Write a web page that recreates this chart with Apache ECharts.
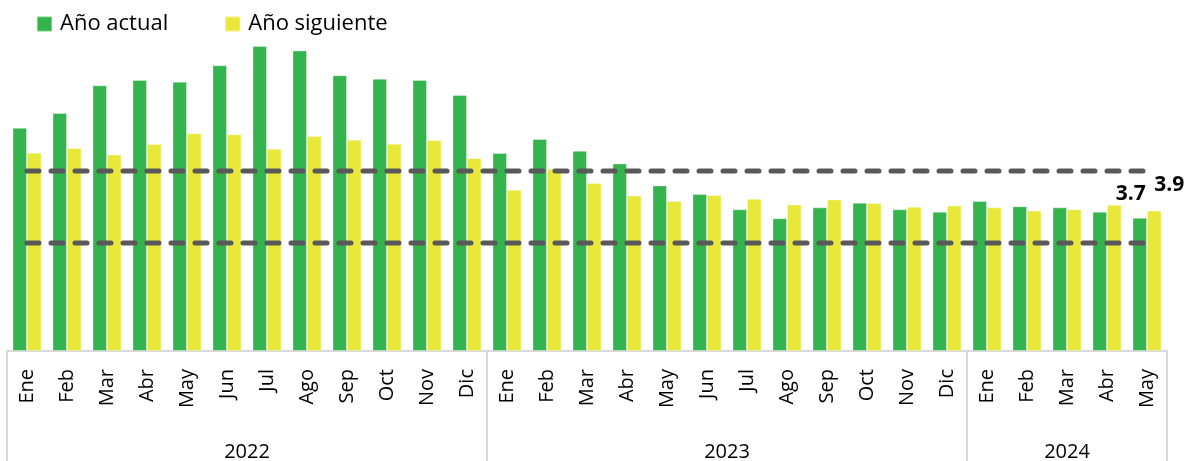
<!DOCTYPE html>
<html lang="es">
<head>
<meta charset="UTF-8">
<title>Expectativas de inflación</title>
<style>
  html, body { margin: 0; padding: 0; background: #fff; }
  #chart { width: 1185px; height: 461px; }
</style>
</head>
<body>
<div id="chart"></div>
<script src="https://cdn.jsdelivr.net/npm/echarts@6/dist/echarts.min.js"></script>
<script>
// meses (29), con año para que cada categoría sea única
var months = ['Ene','Feb','Mar','Abr','May','Jun','Jul','Ago','Sep','Oct','Nov','Dic',
              'Ene','Feb','Mar','Abr','May','Jun','Jul','Ago','Sep','Oct','Nov','Dic',
              'Ene','Feb','Mar','Abr','May'];
var years = ['2022', '2023', '2024'];
var yearLabelPos = [6, 18, 26.5];   // centro de cada bloque de año, en unidades de categoría
var yearStarts = [0, 12, 24];

var anioActual = [6.20, 6.61, 7.38, 7.53, 7.48, 7.94, 8.47, 8.35, 7.66, 7.56, 7.53, 7.11,
                  5.50, 5.89, 5.56, 5.21, 4.60, 4.36, 3.94, 3.69, 3.99, 4.12, 3.94, 3.87,
                  4.17, 4.02, 3.99, 3.87, 3.70];
var anioSiguiente = [5.51, 5.64, 5.46, 5.75, 6.05, 6.02, 5.62, 5.97, 5.87, 5.76, 5.86, 5.36,
                     4.48, 5.06, 4.67, 4.32, 4.17, 4.33, 4.23, 4.07, 4.21, 4.11, 4.01, 4.04,
                     3.99, 3.90, 3.94, 4.06, 3.90];
// rango meta
var metaSuperior = 5;
var metaInferior = 3;

var cats = months.map(function (m, i) { return m + '|' + i; });

function withLastLabel(values, offset) {
  return values.map(function (v, i) {
    if (i !== values.length - 1) return v;
    return {
      value: v,
      label: {
        show: true, position: 'top', offset: offset,
        formatter: function (p) { return p.value.toFixed(1); },
        color: '#000', fontSize: 21, fontWeight: 'bold', fontFamily: 'Open Sans'
      }
    };
  });
}

var chart = echarts.init(document.getElementById('chart'));

var option = {
  animation: false,
  textStyle: { fontFamily: 'Open Sans' },
  legend: {
    left: 31, top: 8,
    itemWidth: 15, itemHeight: 15, itemGap: 56,
    icon: 'rect',
    textStyle: { fontSize: 22, color: '#000', padding: [0, 0, 0, 3] },
    data: ['Año actual', 'Año siguiente']
  },
  grid: { left: 7, right: 18, top: 27, bottom: 110, containLabel: false, outerBoundsMode: 'none' },
  xAxis: [{
    type: 'category',
    data: cats,
    position: 'bottom',
    axisLine: { show: true, lineStyle: { color: '#d9d9d9', width: 2 } },
    axisTick: {
      show: true, length: 112,
      interval: function (idx) { return yearStarts.indexOf(idx) >= 0; },
      lineStyle: { color: '#d9d9d9', width: 2 }
    },
    axisLabel: {
      interval: 0, rotate: 90, margin: 18,
      fontSize: 20, color: '#000',
      formatter: function (v) { return v.split('|')[0]; }
    },
    splitLine: { show: false }
  }, {
    type: 'value',
    min: 0, max: months.length, interval: 0.5,
    position: 'bottom',
    offset: 83,
    axisLine: { show: false },
    axisTick: { show: false },
    splitLine: { show: false },
    axisLabel: {
      fontSize: 20, color: '#000', showMinLabel: true, showMaxLabel: true,
      formatter: function (v) {
        var k = yearLabelPos.indexOf(v);
        return k >= 0 ? years[k] : '';
      }
    }
  }],
  yAxis: {
    type: 'value', min: 0, max: 9, show: false,
    splitLine: { show: false }
  },
  series: [{
    name: 'Año actual',
    type: 'bar',
    barWidth: 14.5,
    barGap: '0%',
    itemStyle: { color: '#34b44c', borderColor: 'rgba(255,255,255,0.35)', borderWidth: 1 },
    data: withLastLabel(anioActual, [-9, -8])
  }, {
    name: 'Año siguiente',
    type: 'bar',
    barWidth: 14.5,
    barGap: '0%',
    itemStyle: { color: '#e8e83a', borderColor: 'rgba(255,255,255,0.35)', borderWidth: 1 },
    data: withLastLabel(anioSiguiente, [15, -10])
  }, {
    name: 'Meta superior',
    type: 'line',
    symbol: 'none',
    silent: true,
    lineStyle: { color: '#595959', width: 5, type: [12, 12], cap: 'round' },
    data: cats.map(function () { return metaSuperior; }),
    z: 5
  }, {
    name: 'Meta inferior',
    type: 'line',
    symbol: 'none',
    silent: true,
    lineStyle: { color: '#595959', width: 5, type: [12, 12], cap: 'round' },
    data: cats.map(function () { return metaInferior; }),
    z: 5
  }]
};

chart.setOption(option);
</script>
</body>
</html>
